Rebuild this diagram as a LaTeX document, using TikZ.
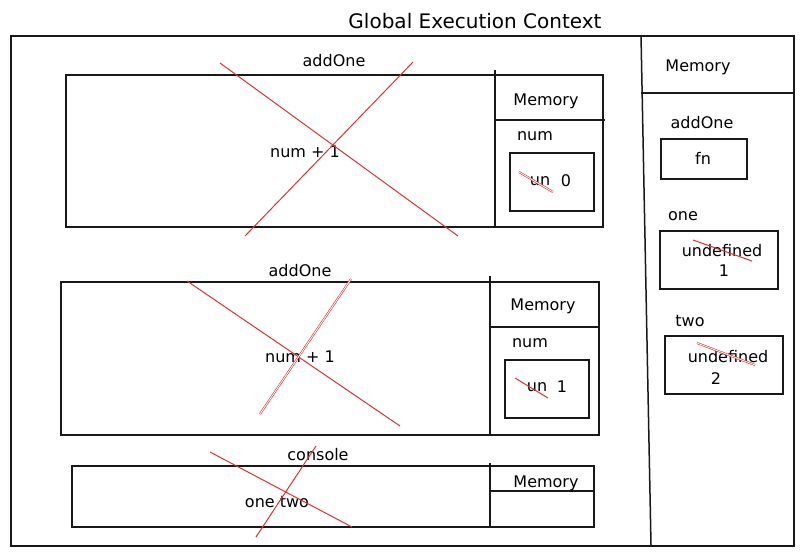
\documentclass[tikz,border=0pt]{standalone}
\usepackage{fontspec}
\setmainfont{DejaVu Sans}
\definecolor{strike}{RGB}{224,49,49}
\tikzset{
  sk/.style={draw=black!90, line width=1.5pt},
  frame/.style={sk, rectangle, anchor=north west, inner sep=0pt},
  lbl/.style={font=\fontsize{16}{18}\selectfont, inner sep=1pt},
  cross/.style={draw=strike, line width=1pt},
  dstrike/.style={draw=strike, line width=0.6pt, double=white, double distance=0.8pt}
}
\begin{document}
\begin{tikzpicture}[x=1pt,y=-1pt]
\useasboundingbox (0,0) rectangle (804,555);
% global frame
\node[frame, minimum width=783pt, minimum height=510pt] (gec) at (10,35) {};
\node[font=\fontsize{20}{22}\selectfont] (title) at (475,21) {Global Execution Context};
\coordinate (dvt) at (641,35);
\coordinate (dvb) at (651,545);
\draw[sk] (dvt) -- (dvb);
\coordinate (gml) at (641,93);
\coordinate (gmr) at (793,93);
\draw[sk] (gml) -- (gmr);
\node[lbl] (gmem) at (698,67) {Memory};
% box 1
\node[frame, minimum width=537pt, minimum height=152pt] (b1) at (65,74) {};
\node[lbl] (b1t) at (334,61) {addOne};
\node[lbl] (b1c) at (305,152) {num + 1};
\coordinate (b1dt) at (495,70);
\coordinate (b1db) at (495,226);
\draw[sk] (b1dt) -- (b1db);
\coordinate (b1hl) at (495,120);
\coordinate (b1hr) at (605,120);
\draw[sk] (b1hl) -- (b1hr);
\node[lbl] (b1m) at (546,101) {Memory};
\node[lbl] (b1n) at (535,136) {num};
\node[frame, minimum width=84pt, minimum height=58pt] (b1v) at (509,152) {};
\node[lbl] (b1vu) at (540,181) {un};
\node[lbl] (b1vt) at (566,181) {0};
\draw[dstrike] (519,172) -- (553,192);
\draw[cross] (220,63) -- (458,236);
\draw[cross] (413,62) -- (245,236);
% box 2
\node[frame, minimum width=538pt, minimum height=153pt] (b2) at (60,281) {};
\node[lbl] (b2t) at (300,271) {addOne};
\node[lbl] (b2c) at (300,357) {num + 1};
\coordinate (b2dt) at (490,276);
\coordinate (b2db) at (490,434);
\draw[sk] (b2dt) -- (b2db);
\coordinate (b2hl) at (490,327);
\coordinate (b2hr) at (600,327);
\draw[sk] (b2hl) -- (b2hr);
\node[lbl] (b2m) at (543,306) {Memory};
\node[lbl] (b2n) at (530,343) {num};
\node[frame, minimum width=84pt, minimum height=58pt] (b2v) at (504,359) {};
\node[lbl] (b2vu) at (537,387) {un};
\node[lbl] (b2vt) at (562,387) {1};
\draw[cross] (515,378) -- (548,398);
\draw[cross] (187,281) -- (400,426);
\draw[dstrike] (351,279) -- (260,414);
% box 3
\node[frame, minimum width=522pt, minimum height=61pt] (b3) at (71,465) {};
\node[lbl] (b3t) at (318,455) {console};
\node[lbl] (b3c) at (277,502) {one two};
\coordinate (b3dt) at (490,463);
\coordinate (b3db) at (490,526);
\draw[sk] (b3dt) -- (b3db);
\coordinate (b3hl) at (490,491);
\coordinate (b3hr) at (593,491);
\draw[sk] (b3hl) -- (b3hr);
\node[lbl] (b3m) at (546,483) {Memory};
\draw[cross] (210,452) -- (352,527);
\draw[cross] (316,446) -- (256,537);
% right memory column
\node[lbl] (ga) at (702,123) {addOne};
\node[frame, minimum width=86pt, minimum height=40pt] (gab) at (660,138) {};
\node[lbl] (gav) at (703,158) {fn};
\node[lbl] (go) at (683,216) {one};
\node[frame, minimum width=118pt, minimum height=58pt] (gob) at (659,230) {};
\node[lbl] (gov) at (722,251) {undefined};
\node[lbl] (gov2) at (724,271) {1};
\draw[cross] (693,240) -- (752,261);
\node[lbl] (gt) at (690,321) {two};
\node[frame, minimum width=118pt, minimum height=58pt] (gtb) at (664,335) {};
\node[lbl] (gtv) at (728,357) {undefined};
\node[lbl] (gtv2) at (716,379) {2};
\draw[dstrike] (697,343) -- (755,365);
\end{tikzpicture}
\end{document}
